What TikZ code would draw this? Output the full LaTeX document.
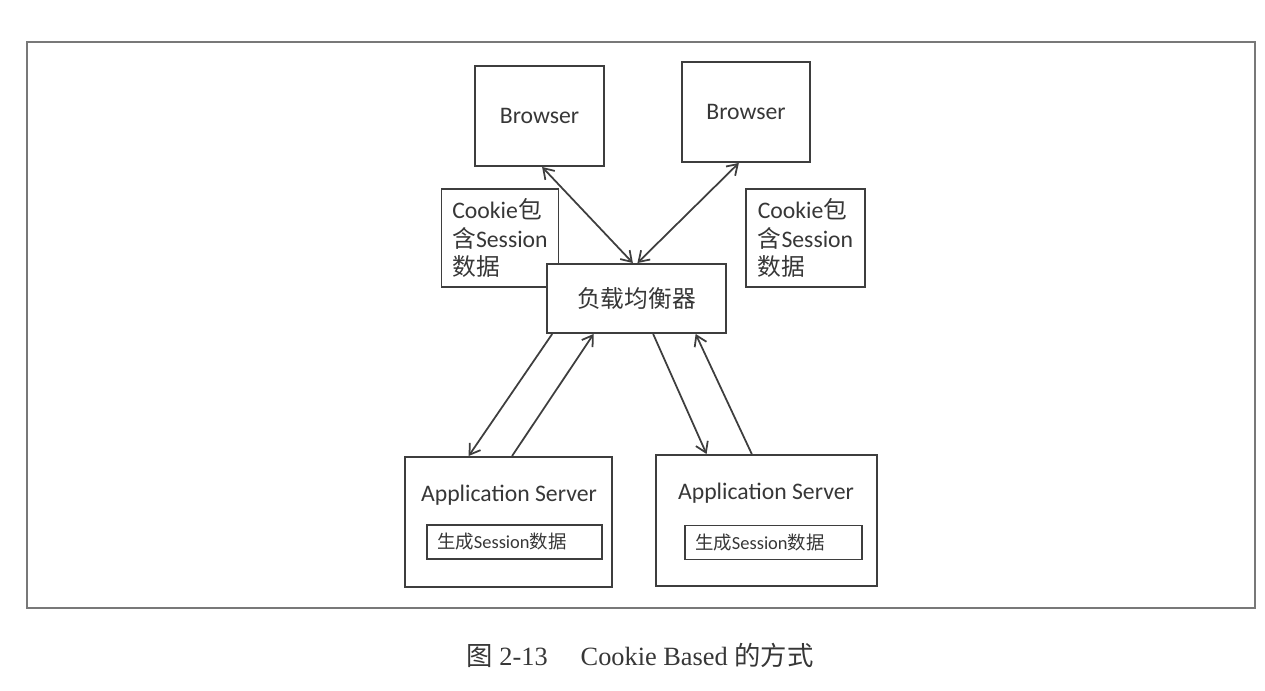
\documentclass[tikz,border=0pt]{standalone}
\usepackage{fontspec}
\setmainfont{Liberation Serif}
\newfontfamily\diagfont{Carlito}
\newfontfamily\cjk{Noto Sans CJK SC}
\usetikzlibrary{arrows.meta,calc}
\definecolor{linegray}{RGB}{62,62,62}
\definecolor{framegray}{RGB}{120,120,120}
\definecolor{textgray}{RGB}{55,55,55}

\begin{document}
\begin{tikzpicture}[x=0.02cm, y=-0.02cm,
    box/.style={draw=linegray, line width=1.1pt, inner sep=0pt, text=textgray,
      font=\diagfont\fontsize{13.5}{16}\selectfont},
    plain/.style={inner sep=0pt, text=textgray, font=\diagfont\fontsize{13.5}{16}\selectfont},
    innerbox/.style={box, font=\diagfont\fontsize{10.5}{12}\selectfont, inner xsep=0.2cm,
      align=left, minimum height=0.68cm},
    link/.style={linegray, line width=1pt, -{Straight Barb[length=2mm,width=2.6mm]}},
    twoway/.style={link, {Straight Barb[length=2mm,width=2.6mm]}-{Straight Barb[length=2mm,width=2.6mm]}}]
    \useasboundingbox (0,0) rectangle (1265,690);
    % 外框
    \draw[framegray, line width=0.6pt] (27,42) rectangle (1255,608);
    % 浏览器
    \node[box, minimum width=2.58cm, minimum height=2cm] (browserA) at (539.5,116) {Browser};
    \node[box, minimum width=2.56cm, minimum height=2cm] (browserB) at (746,112) {Browser};
    % Cookie 说明
    \node[box, minimum width=2.34cm, minimum height=1.96cm, align=left] (cookieA) at (500,238)
      {Cookie{\cjk 包}\\{\cjk 含}Session\\{\cjk 数据}};
    \node[box, minimum width=2.38cm, minimum height=1.96cm, align=left] (cookieB) at (805.5,238)
      {Cookie{\cjk 包}\\{\cjk 含}Session\\{\cjk 数据}};
    % 负载均衡器
    \node[box, minimum width=3.58cm, minimum height=1.38cm, fill=white] (balancer) at (636.5,298.5) {\cjk 负载均衡器};
    % 应用服务器
    \node[box, minimum width=4.14cm, minimum height=2.6cm] (serverA) at (508.5,522) {};
    \node[plain] (titleA) at (509,495) {Application Server};
    \node[innerbox, text width=3.1cm] (sessionA) at (514.5,542) {{\cjk 生成}Session{\cjk 数据}};
    \node[box, minimum width=4.42cm, minimum height=2.62cm] (serverB) at (766.5,520.5) {};
    \node[plain] (titleB) at (766,493) {Application Server};
    \node[innerbox, text width=3.14cm] (sessionB) at (773.5,542.5) {{\cjk 生成}Session{\cjk 数据}};
    % 浏览器 <-> 负载均衡器
    \draw[twoway] ($(browserA.south west)!0.52!(browserA.south east)$) -- ($(balancer.north west)!0.48!(balancer.north east)$);
    \draw[twoway] ($(browserB.south west)!0.445!(browserB.south east)$) -- ($(balancer.north west)!0.505!(balancer.north east)$);
    % 负载均衡器 <-> 应用服务器
    \draw[link] ($(balancer.south west)!0.034!(balancer.south east)$) -- ($(serverA.north west)!0.309!(serverA.north east)$);
    \draw[link] ($(serverA.north west)!0.517!(serverA.north east)$) -- ($(balancer.south west)!0.263!(balancer.south east)$);
    \draw[link] ($(balancer.south west)!0.592!(balancer.south east)$) -- ($(serverB.north west)!0.231!(serverB.north east)$);
    \draw[link] ($(serverB.north west)!0.434!(serverB.north east)$) -- ($(balancer.south west)!0.827!(balancer.south east)$);
    % 图注
    \node[text=textgray, font=\fontsize{15}{18}\selectfont] (caption) at (640,655)
      {{\cjk 图} 2-13\hspace{1.25em}Cookie Based {\cjk 的方式}};
\end{tikzpicture}
\end{document}
